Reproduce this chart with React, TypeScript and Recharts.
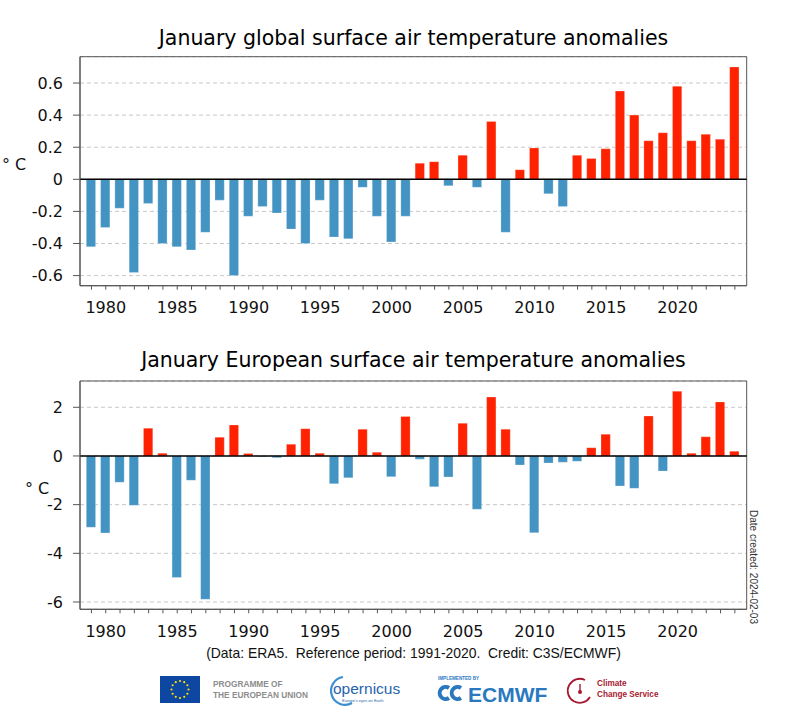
import React from 'react';
import { BarChart, Bar, Cell, XAxis, YAxis, CartesianGrid, ReferenceLine, ReferenceArea } from 'recharts';

const years = [
  1979, 1980, 1981, 1982, 1983, 1984, 1985, 1986, 1987, 1988, 1989, 1990,
  1991, 1992, 1993, 1994, 1995, 1996, 1997, 1998, 1999, 2000, 2001, 2002,
  2003, 2004, 2005, 2006, 2007, 2008, 2009, 2010, 2011, 2012, 2013, 2014,
  2015, 2016, 2017, 2018, 2019, 2020, 2021, 2022, 2023, 2024,
];

// global January anomalies (°C, vs 1991-2020)
const globalAnomalies = [
  -0.42, -0.30, -0.18, -0.58, -0.15, -0.40, -0.42, -0.44, -0.33, -0.13, -0.60, -0.23,
  -0.17, -0.21, -0.31, -0.40, -0.13, -0.36, -0.37, -0.05, -0.23, -0.39, -0.23, 0.10,
  0.11, -0.04, 0.15, -0.05, 0.36, -0.33, 0.06, 0.195, -0.09, -0.17, 0.15, 0.13,
  0.19, 0.55, 0.40, 0.24, 0.29, 0.58, 0.24, 0.28, 0.25, 0.70,
];

// European January anomalies (°C)
const europeAnomalies = [
  -2.93, -3.16, -1.08, -2.03, 1.14, 0.11, -4.99, -1.0, -5.89, 0.77, 1.27, 0.1,
  -0.03, -0.07, 0.48, 1.12, 0.11, -1.14, -0.9, 1.1, 0.15, -0.85, 1.62, -0.13,
  -1.27, -0.86, 1.34, -2.19, 2.42, 1.1, -0.37, -3.15, -0.29, -0.26, -0.22, 0.34,
  0.89, -1.23, -1.33, 1.64, -0.62, 2.66, 0.11, 0.79, 2.22, 0.19,
];

const labelYears = [1980, 1985, 1990, 1995, 2000, 2005, 2010, 2015, 2020];
const globalTicks = [-0.6, -0.4, -0.2, 0, 0.2, 0.4, 0.6];
const europeTicks = [-6, -4, -2, 0, 2];

const WARM = '#ff2200';
const COLD = '#4393c3';
const FRAME = '#555';
const X_DOMAIN: [number, number] = [1978.2, 2024.83];
const MPL_FONT = '"DejaVu Sans", sans-serif';
const HELV = '"Liberation Sans", Arial, sans-serif';

type PanelProps = {
  values: number[];
  ticks: number[];
  domain: [number, number];
  fmt: (v: number) => string;
  top: number;
  bottom: number;
};

const AnomalyPanel = ({ values, ticks, domain, fmt, top, bottom }: PanelProps) => {
  const data = years.map((year, i) => ({ year, value: values[i] }));
  const tickStyle = { fill: '#111', fontSize: 16, fontFamily: MPL_FONT };
  return (
    <BarChart width={800} height={320} data={data} margin={{ top, right: 53.3, bottom, left: 20 }}>
      <CartesianGrid vertical={false} stroke="#c8c8c8" strokeDasharray="4 3" />
      <XAxis
        dataKey="year"
        type="number"
        domain={X_DOMAIN}
        allowDataOverflow
        ticks={years}
        interval={0}
        tickFormatter={(v: number) => (labelYears.includes(v) ? String(v) : '')}
        tickSize={4}
        tickMargin={12}
        height={30}
        stroke={FRAME}
        tick={tickStyle}
      />
      <YAxis
        type="number"
        domain={domain}
        allowDataOverflow
        ticks={ticks}
        interval={0}
        tickFormatter={fmt}
        tickSize={7}
        tickMargin={10}
        width={60}
        stroke={FRAME}
        tick={tickStyle}
      />
      <Bar dataKey="value" barSize={9.3} isAnimationActive={false} stroke="#ffffff" strokeOpacity={0.4} strokeWidth={0.6}>
        {data.map((d) => (
          <Cell key={d.year} fill={d.value >= 0 ? WARM : COLD} />
        ))}
      </Bar>
      <ReferenceLine y={0} stroke="#000" strokeWidth={1.5} />
      <ReferenceArea
        x1={X_DOMAIN[0]}
        x2={X_DOMAIN[1]}
        y1={domain[0]}
        y2={domain[1]}
        fill="none"
        stroke={FRAME}
        strokeWidth={1}
        ifOverflow="visible"
      />
    </BarChart>
  );
};

const Logos = () => {
  const stars = Array.from({ length: 12 }, (_, i) => {
    const a = (i / 12) * Math.PI * 2;
    return <circle key={i} cx={180 + Math.cos(a) * 8.5} cy={689.5 + Math.sin(a) * 8.5} r={1.1} fill="#ffdd00" />;
  });
  return (
    <svg width={800} height={724} style={{ position: 'absolute', left: 0, top: 0, pointerEvents: 'none' }}>
      {/* EU */}
      <rect x={160} y={676} width={40} height={27} fill="#0e47a1" />
      {stars}
      <text x={213} y={687} fontSize={8.3} fontWeight="bold" fill="#8c8c8c" fontFamily={HELV}>PROGRAMME OF</text>
      <text x={213} y={697.5} fontSize={8.3} fontWeight="bold" fill="#8c8c8c" fontFamily={HELV}>THE EUROPEAN UNION</text>
      {/* Copernicus */}
      <path d="M 343 677 A 14 14 0 1 0 352 703" stroke="#3a8fd0" strokeWidth={2.2} fill="none" />
      <text x={333} y={694} fontSize={15.5} fill="#2764ae" fontFamily={HELV}>opernicus</text>
      <text x={342} y={702} fontSize={4} fill="#2764ae" fontFamily={HELV}>Europe's eyes on Earth</text>
      {/* ECMWF */}
      <text x={438} y={680} fontSize={4.6} fontWeight="bold" fill="#2a79bf" fontFamily={HELV}>IMPLEMENTED BY</text>
      <path d="M 449 688 A 6 6 0 1 0 449 698" stroke="#2a79bf" strokeWidth={4} fill="none" />
      <path d="M 461 688 A 6 6 0 1 0 461 698" stroke="#2a79bf" strokeWidth={4} fill="none" />
      <text x={468} y={701.5} fontSize={21} fontWeight="bold" fill="#2a79bf" fontFamily={HELV}>ECMWF</text>
      {/* Climate Change Service */}
      <path d="M 585 680 A 12 12 0 1 0 590 697" stroke="#a71930" strokeWidth={1.8} fill="none" />
      <circle cx={580} cy={692} r={2} fill="#a71930" />
      <line x1={580} y1={684} x2={580} y2={692} stroke="#a71930" strokeWidth={1.4} />
      <text x={597} y={686} fontSize={8.2} fontWeight="bold" fill="#a71930" fontFamily={HELV}>Climate</text>
      <text x={597} y={697} fontSize={8.2} fontWeight="bold" fill="#a71930" fontFamily={HELV}>Change Service</text>
    </svg>
  );
};

const titleStyle: React.CSSProperties = {
  position: 'absolute',
  left: 80,
  width: 667,
  textAlign: 'center',
  fontFamily: MPL_FONT,
  fontSize: 20.5,
  color: '#000',
  lineHeight: '24px',
  whiteSpace: 'nowrap',
};

const unitStyle: React.CSSProperties = {
  position: 'absolute',
  fontFamily: MPL_FONT,
  fontSize: 16,
  color: '#111',
  lineHeight: '20px',
};

export default function App() {
  return (
    <div style={{ position: 'absolute', left: 0, top: 0, width: 800, height: 724, background: '#fff', overflow: 'hidden' }}>
      <div style={{ ...titleStyle, top: 26 }}>January global surface air temperature anomalies</div>
      <div style={{ ...titleStyle, top: 348 }}>January European surface air temperature anomalies</div>

      <div style={{ position: 'absolute', left: 0, top: 0 }}>
        <AnomalyPanel
          values={globalAnomalies}
          ticks={globalTicks}
          domain={[-0.663, 0.764]}
          fmt={(v) => (v === 0 ? '0' : v.toFixed(1))}
          top={56.7}
          bottom={4.3}
        />
      </div>
      <div style={{ position: 'absolute', left: 0, top: 320 }}>
        <AnomalyPanel
          values={europeAnomalies}
          ticks={europeTicks}
          domain={[-6.3, 3.08]}
          fmt={(v) => String(v)}
          top={61}
          bottom={0.7}
        />
      </div>

      <div style={{ ...unitStyle, left: 2, top: 155 }}>° C</div>
      <div style={{ ...unitStyle, left: 25, top: 479 }}>° C</div>

      <div
        style={{
          position: 'absolute',
          left: 753,
          top: 567,
          transform: 'translate(-50%, -50%) rotate(90deg)',
          fontFamily: HELV,
          fontSize: 10,
          color: '#333',
          whiteSpace: 'nowrap',
        }}
      >
        Date created: 2024-02-03
      </div>

      <div
        style={{
          position: 'absolute',
          left: 80,
          width: 667,
          top: 645,
          textAlign: 'center',
          fontFamily: HELV,
          fontSize: 13.9,
          color: '#111',
          whiteSpace: 'pre',
        }}
      >
        {'(Data: ERA5.  Reference period: 1991-2020.  Credit: C3S/ECMWF)'}
      </div>

      <Logos />
    </div>
  );
}
